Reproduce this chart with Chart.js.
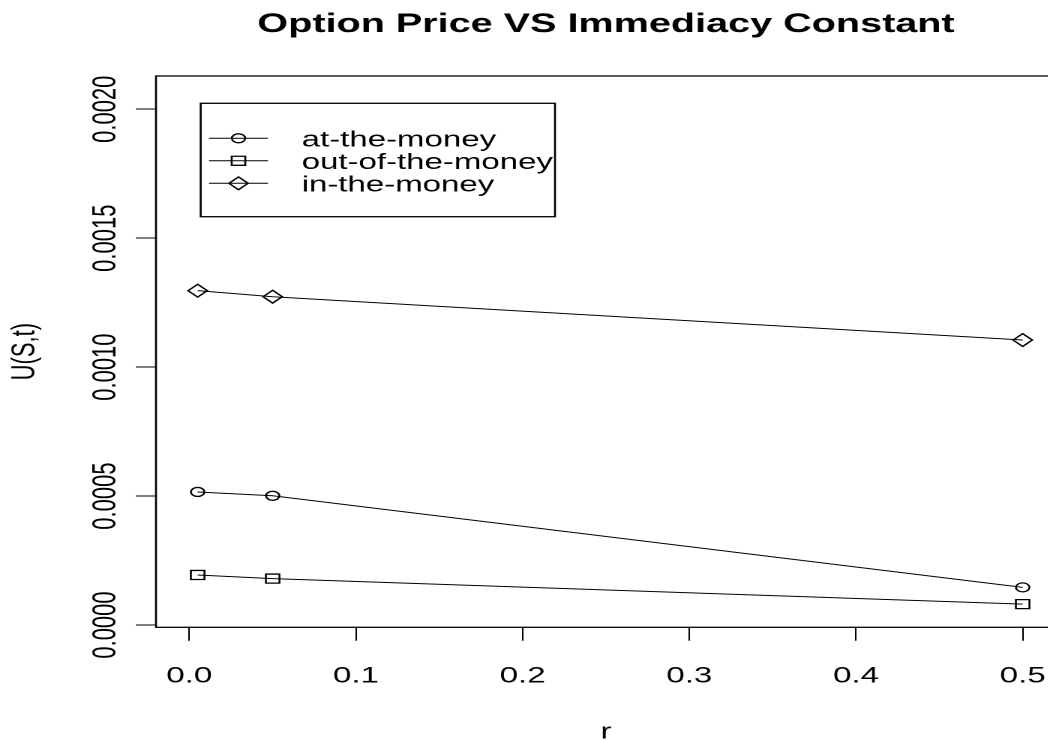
<!DOCTYPE html>
<html>
<head>
<meta charset="utf-8">
<script src="https://cdn.jsdelivr.net/npm/chart.js@4.4.1/dist/chart.umd.min.js"></script>
<style>
html, body { margin: 0; padding: 0; background: #fff; overflow: hidden; }
#wrap { width: 704px; height: 740px; transform: scaleX(1.5); transform-origin: 0 0; }
</style>
</head>
<body>
<div id="wrap"><canvas id="graph" width="704" height="740"></canvas></div>
<script>
// values
var rValues = [0.005, 0.05, 0.5];
var atTheMoney = [0.000516, 0.000501, 0.000146];
var outOfTheMoney = [0.000194, 0.000180, 0.000081];
var inTheMoney = [0.0012965, 0.001273, 0.001105];

var xTicks = [0, 0.1, 0.2, 0.3, 0.4, 0.5];
var xTickLabels = ['0.0', '0.1', '0.2', '0.3', '0.4', '0.5'];
var yTicks = [0, 0.0005, 0.001, 0.0015, 0.002];
var yTickLabels = ['0.0000', '0.0005', '0.0010', '0.0015', '0.0020'];

var FONT = 'Liberation Sans, Arial, sans-serif';

function pts(vals)
{
    return rValues.map(function (r, i) { return { x: r, y: vals[i] }; });
}

function series(label, vals, style, radius)
{
    return {
        label: label,
        data: pts(vals),
        borderColor: '#000',
        borderWidth: 1,
        tension: 0,
        pointStyle: style,
        pointRadius: radius,
        pointBorderWidth: 1.3,
        pointBorderColor: '#000',
        pointBackgroundColor: 'rgba(0,0,0,0)'
    };
}

// box round the plot, tick labels (y ones read bottom to top), legend in R style
var extras = {
    id: 'extras',
    afterDraw: function (chart) {
        var ctx = chart.ctx;
        var a = chart.chartArea;
        ctx.save();
        ctx.strokeStyle = '#000';
        ctx.lineWidth = 1.3;
        ctx.strokeRect(a.left, a.top, a.right - a.left, a.bottom - a.top);

        ctx.fillStyle = '#000';
        ctx.font = '22px ' + FONT;
        ctx.textAlign = 'center';
        ctx.textBaseline = 'alphabetic';

        var xs = chart.scales.x;
        xs.ticks.forEach(function (t, i) {
            ctx.fillText(xTickLabels[i], xs.getPixelForValue(t.value), 682.3);
        });

        var ys = chart.scales.y;
        ys.ticks.forEach(function (t, i) {
            var py = ys.getPixelForValue(t.value);
            ctx.save();
            ctx.translate(76.8, py);
            ctx.rotate(-Math.PI / 2);
            ctx.fillText(yTickLabels[i], 0, 0);
            ctx.restore();
        });

        // legend
        var lx = 133.8, ly = 103.3, lw = 236.2, lh = 113.4;
        ctx.lineWidth = 1.3;
        ctx.strokeRect(lx, ly, lw, lh);
        var rows = [138.3, 160.8, 183.3];
        ctx.textAlign = 'left';
        chart.data.datasets.forEach(function (ds, i) {
            var y = rows[i];
            ctx.lineWidth = 1;
            ctx.beginPath();
            ctx.moveTo(139.3, y);
            ctx.lineTo(178.7, y);
            ctx.stroke();
            var cx = 159, r = ds.pointRadius;
            ctx.lineWidth = 1.3;
            ctx.beginPath();
            if (ds.pointStyle == 'circle') ctx.arc(cx, y, r, 0, Math.PI * 2);
            else if (ds.pointStyle == 'rect') {
                var s = r * Math.SQRT1_2;
                ctx.rect(cx - s, y - s, 2 * s, 2 * s);
            }
            else {
                ctx.moveTo(cx - r, y); ctx.lineTo(cx, y - r);
                ctx.lineTo(cx + r, y); ctx.lineTo(cx, y + r);
                ctx.closePath();
            }
            ctx.stroke();
            ctx.fillText(ds.label, 201.1, y + 8);
        });
        ctx.restore();
    }
};

var graph = new Chart(document.getElementById('graph').getContext('2d'), {
    type: 'line',
    data: {
        datasets: [
            series('at-the-money', atTheMoney, 'circle', 4.5),
            series('out-of-the-money', outOfTheMoney, 'rect', 6.4),
            series('in-the-money', inTheMoney, 'rectRot', 6.4)
        ]
    },
    options: {
        responsive: false,
        devicePixelRatio: 2,
        animation: false,
        events: [],
        layout: { padding: 0, autoPadding: false },
        plugins: {
            legend: { display: false },
            tooltip: { enabled: false },
            title: {
                display: true,
                text: 'Option Price VS Immediacy Constant',
                color: '#000',
                fullSize: false,
                font: { family: FONT, size: 26.4, weight: 'bold' },
                padding: { top: 9, bottom: 35.3 }
            }
        },
        scales: {
            x: {
                type: 'linear',
                min: -0.02,
                max: 0.52,
                afterBuildTicks: function (scale) {
                    scale.ticks = xTicks.map(function (v) { return { value: v }; });
                },
                afterFit: function (scale) { scale.height = 112.7; },
                border: { display: false },
                grid: { display: true, drawOnChartArea: false, drawTicks: true, tickLength: 13.5, color: '#000', lineWidth: 1 },
                ticks: { display: false },
                title: {
                    display: true,
                    text: 'r',
                    color: '#000',
                    font: { family: FONT, size: 22, lineHeight: 0.69 },
                    padding: 0
                }
            },
            y: {
                type: 'linear',
                min: -0.0000089,
                max: 0.002129,
                afterBuildTicks: function (scale) {
                    scale.ticks = yTicks.map(function (v) { return { value: v }; });
                },
                afterFit: function (scale) { scale.width = 104; },
                border: { display: false },
                grid: { display: true, drawOnChartArea: false, drawTicks: true, tickLength: 13.5, color: '#000', lineWidth: 1 },
                ticks: { display: false },
                title: {
                    display: true,
                    text: 'U(S,t)',
                    color: '#000',
                    font: { family: FONT, size: 22 },
                    padding: { top: 3.7, bottom: 0 }
                }
            }
        }
    },
    plugins: [extras]
});
</script>
</body>
</html>
